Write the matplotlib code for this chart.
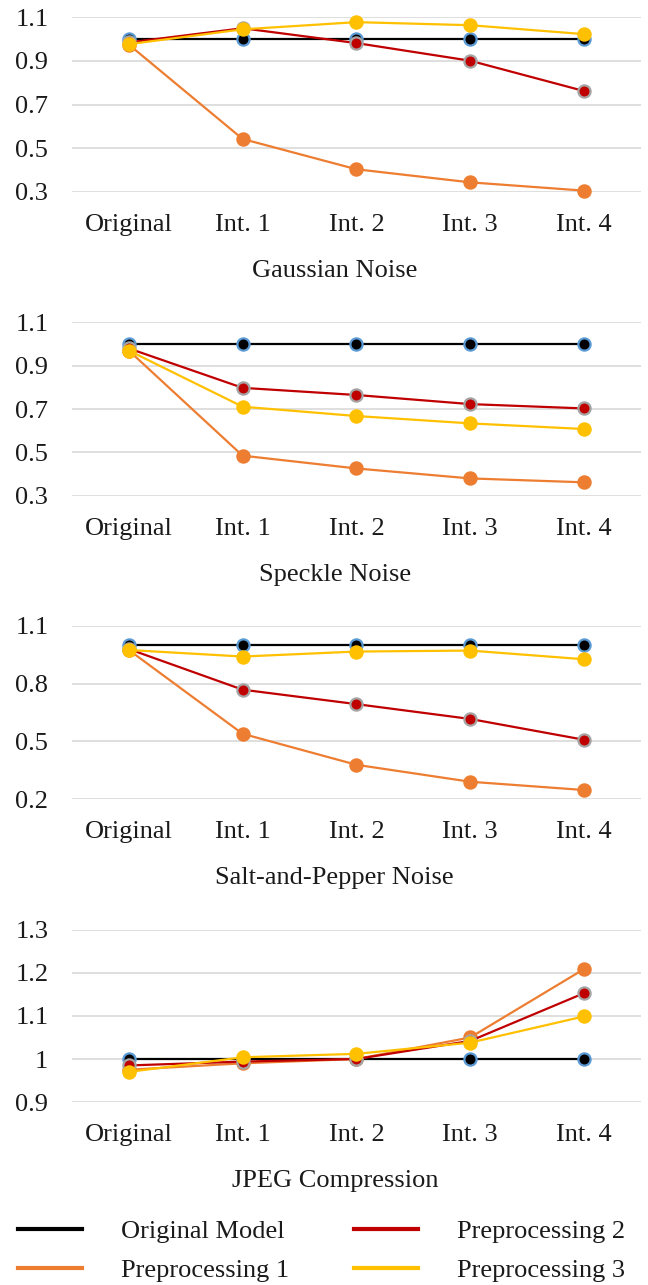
import matplotlib
matplotlib.use("Agg")
import matplotlib.pyplot as plt
from matplotlib.lines import Line2D

plt.rcParams['font.family'] = ['Liberation Serif', 'DejaVu Serif']

categories = ["Original", "Int. 1", "Int. 2", "Int. 3", "Int. 4"]
titles = ["Gaussian Noise", "Speckle Noise", "Salt-and-Pepper Noise", "JPEG Compression"]
series_names = ["Original Model", "Preprocessing 1", "Preprocessing 2", "Preprocessing 3"]

# values per panel, per series
gauss_orig = [1.0, 1.0, 1.0, 1.0, 1.0]
gauss_p1 = [0.975, 0.542, 0.403, 0.343, 0.305]
gauss_p2 = [0.985, 1.05, 0.982, 0.901, 0.762]
gauss_p3 = [0.977, 1.045, 1.078, 1.064, 1.023]

speckle_orig = [1.0, 1.0, 1.0, 1.0, 1.0]
speckle_p1 = [0.97, 0.485, 0.426, 0.380, 0.362]
speckle_p2 = [0.98, 0.798, 0.765, 0.723, 0.703]
speckle_p3 = [0.97, 0.711, 0.668, 0.634, 0.608]

sp_orig = [1.0, 1.0, 1.0, 1.0, 1.0]
sp_p1 = [0.975, 0.54, 0.379, 0.291, 0.248]
sp_p2 = [0.98, 0.769, 0.694, 0.617, 0.509]
sp_p3 = [0.975, 0.941, 0.967, 0.972, 0.927]

jpeg_orig = [1.0, 1.0, 1.0, 1.0, 1.0]
jpeg_p1 = [0.975, 0.99, 1.0, 1.05, 1.209]
jpeg_p2 = [0.985, 0.994, 1.0, 1.042, 1.153]
jpeg_p3 = [0.97, 1.004, 1.012, 1.038, 1.099]

panels = [
    [gauss_orig, gauss_p1, gauss_p2, gauss_p3],
    [speckle_orig, speckle_p1, speckle_p2, speckle_p3],
    [sp_orig, sp_p1, sp_p2, sp_p3],
    [jpeg_orig, jpeg_p1, jpeg_p2, jpeg_p3],
]
yticks = [
    [0.3, 0.5, 0.7, 0.9, 1.1],
    [0.3, 0.5, 0.7, 0.9, 1.1],
    [0.2, 0.5, 0.8, 1.1],
    [0.9, 1.0, 1.1, 1.2, 1.3],
]
ytick_labels = [
    ["0.3", "0.5", "0.7", "0.9", "1.1"],
    ["0.3", "0.5", "0.7", "0.9", "1.1"],
    ["0.2", "0.5", "0.8", "1.1"],
    ["0.9", "1", "1.1", "1.2", "1.3"],
]

line_colors = ["#000000", "#ED7D31", "#C00000", "#FFC000"]
face_colors = ["#000000", "#ED7D31", "#C00000", "#FFC000"]
edge_colors = ["#5B9BD5", "#ED7D31", "#A5A5A5", "#FFC000"]

FS = 19

fig = plt.figure(figsize=(6.48, 12.85), dpi=100)

# axes rectangles [left, bottom, width, height] in figure fraction
rects = [
    [0.111, 0.8508, 0.878, 0.1357],
    [0.111, 0.6142, 0.878, 0.1349],
    [0.111, 0.3780, 0.878, 0.1349],
    [0.111, 0.1424, 0.878, 0.1339],
]

x = list(range(len(categories)))
for k, data in enumerate(panels):
    ax = fig.add_axes(rects[k])
    for s, vals in enumerate(data):
        ax.plot(x, vals, color=line_colors[s], lw=1.6, marker="o", ms=8.8,
                mfc=face_colors[s], mec=edge_colors[s], mew=1.6, zorder=3 + s,
                clip_on=False)
    ax.set_xlim(-0.5, 4.5)
    ax.set_ylim(yticks[k][0], yticks[k][-1])
    ax.set_yticks(yticks[k])
    ax.set_yticklabels(ytick_labels[k])
    ax.set_xticks(x)
    ax.set_xticklabels(categories)
    ax.grid(axis="y", color="#D9D9D9", lw=1.2)
    ax.set_axisbelow(True)
    for sp in ax.spines.values():
        sp.set_visible(False)
    ax.tick_params(length=0, labelsize=FS, colors="#1a1a1a")
    ax.tick_params(axis="y", pad=17)
    ax.tick_params(axis="x", pad=16)
    # panel caption sits a bit left of the plot centre
    ax.set_xlabel(titles[k], fontsize=FS, color="#1a1a1a", labelpad=17, x=0.462)

handles = [Line2D([0], [0], color=c, lw=3) for c in line_colors]
fig.legend(handles, series_names,
           loc="center left", bbox_to_anchor=(0.0, 0.0265), ncol=2, frameon=False,
           fontsize=FS, handlelength=2.42, handletextpad=1.48, columnspacing=2.46,
           labelspacing=0.6, borderaxespad=0.3, labelcolor="#1a1a1a")

fig.savefig("out.png", dpi=100)
